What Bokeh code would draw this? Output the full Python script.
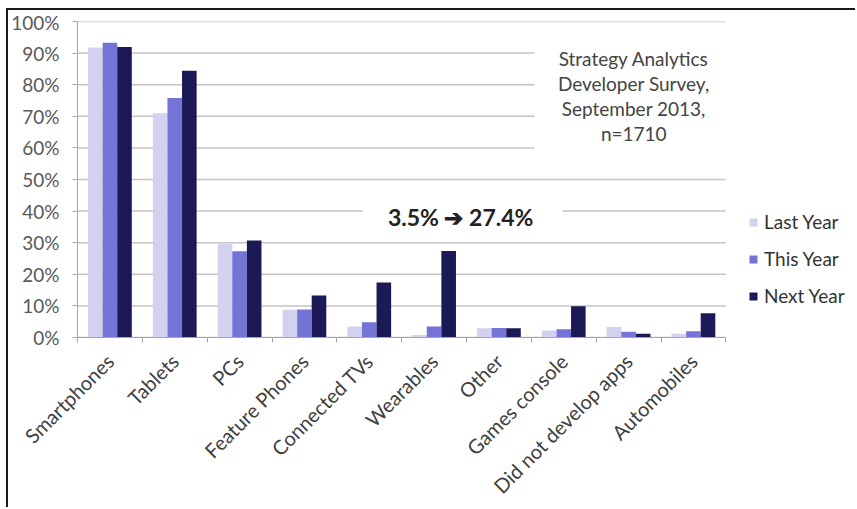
import math
from bokeh.plotting import figure
from bokeh.models import (ColumnDataSource, FixedTicker, NumeralTickFormatter, LinearAxis,
                          Legend, LegendItem, BoxAnnotation, Label, Range1d)
from bokeh.embed import file_html
from bokeh.resources import INLINE

categories = ["Smartphones", "Tablets", "PCs", "Feature Phones", "Connected TVs",
              "Wearables", "Other", "Games console", "Did not develop apps", "Automobiles"]
last_year = [91.8, 71.0, 29.7, 8.8, 3.5, 0.8, 2.9, 2.2, 3.3, 1.2]
this_year = [93.3, 75.8, 27.3, 8.9, 4.8, 3.5, 3.0, 2.6, 1.8, 2.0]
next_year = [91.9, 84.4, 30.7, 13.3, 17.4, 27.4, 2.9, 9.9, 1.2, 7.7]
series_names = ["Last Year", "This Year", "Next Year"]
series_colors = ["#d2d2f0", "#7474d6", "#1b1a56"]
y_ticks = [0, 10, 20, 30, 40, 50, 60, 70, 80, 90, 100]
note_lines = ["Strategy Analytics", "Developer Survey,", "September 2013,", "n=1710"]
callout = "3.5% \u2794 27.4%"

FONT = "Lato"
N = len(categories)
X_END = 12.0  # extra room on the right of the categories for the legend

p = figure(width=849, height=499, output_backend="svg", toolbar_location=None,
           x_range=Range1d(0, X_END), y_range=Range1d(0, 100),
           min_border_left=69, min_border_right=2, min_border_top=11, min_border_bottom=150,
           x_axis_type=None,
           styles={"margin-top": "8px", "margin-left": "6px",
                   "border-top": "2px solid #1a1a1a", "border-left": "2px solid #1a1a1a"})
p.outline_line_color = None
p.background_fill_color = "white"
p.border_fill_color = "white"
p.xgrid.visible = False
p.ygrid.visible = False

# horizontal gridlines limited to the category span
p.segment(x0=[0] * len(y_ticks), x1=[N] * len(y_ticks), y0=y_ticks, y1=y_ticks,
          line_color="#c4c4c4", line_width=1.5)

centers = [i + 0.5 for i in range(N)]
offsets = [-0.225, 0.0, 0.225]
renderers = []
for vals, off, col in zip([last_year, this_year, next_year], offsets, series_colors):
    src = ColumnDataSource(dict(x=[c + off for c in centers], top=vals))
    r = p.vbar(x="x", top="top", width=0.225, source=src, fill_color=col, line_color=None)
    renderers.append(r)

# y axis
yax = p.yaxis[0]
yax.ticker = FixedTicker(ticks=y_ticks)
yax.formatter = NumeralTickFormatter(format="0")
yax.major_label_overrides = {t: f"{t}%" for t in y_ticks}
yax.axis_line_color = "#a6a6a6"
yax.major_tick_line_color = "#a6a6a6"
yax.major_tick_out = 5
yax.major_tick_in = 0
yax.minor_tick_line_color = None
yax.major_label_text_font = FONT
yax.major_label_text_font_size = "19px"
yax.major_label_text_color = "#595959"
yax.major_label_standoff = 13

# x axis: boundary ticks
xax1 = LinearAxis(ticker=FixedTicker(ticks=list(range(N + 1))), bounds=(0, N),
                  major_label_overrides={i: "" for i in range(N + 1)})
xax1.axis_line_color = "#a6a6a6"
xax1.major_tick_line_color = "#a6a6a6"
xax1.major_tick_out = 5
xax1.major_tick_in = 0
xax1.minor_tick_line_color = None
xax1.major_label_text_font_size = "1px"
xax1.major_label_standoff = 0
p.add_layout(xax1, "below")

# x axis: category labels
xax2 = LinearAxis(ticker=FixedTicker(ticks=centers),
                  major_label_overrides={c: name for c, name in zip(centers, categories)})
xax2.axis_line_color = None
xax2.major_tick_line_color = None
xax2.minor_tick_line_color = None
xax2.major_label_orientation = math.pi / 4
xax2.major_label_text_font = FONT
xax2.major_label_text_font_size = "20px"
xax2.major_label_text_color = "#404040"
xax2.major_label_standoff = 9
p.add_layout(xax2, "below")

# white boxes behind annotations
p.add_layout(BoxAnnotation(left=7.05, right=10.3, bottom=54, top=96,
                           fill_color="white", fill_alpha=1, line_color=None))
p.add_layout(BoxAnnotation(left=4.4, right=7.48, bottom=35, top=45,
                           fill_color="white", fill_alpha=1, line_color=None))

for i, line in enumerate(note_lines):
    p.add_layout(Label(x=8.58, y=88.3 - i * 7.9, text=line, text_align="center",
                       text_baseline="middle", text_font=FONT, text_font_size="19px",
                       text_color="#444444"))

p.add_layout(Label(x=5.91, y=38.0, text=callout, text_align="center", text_baseline="middle",
                   text_font=FONT, text_font_size="23px", text_font_style="bold",
                   text_color="#222222"))

legend = Legend(items=[LegendItem(label=n, renderers=[r]) for n, r in zip(series_names, renderers)],
                location=(671, 30), label_text_font=FONT, label_text_font_size="19px",
                label_text_color="#333333", glyph_width=10, glyph_height=10,
                label_height=20, spacing=14, padding=0, margin=0,
                border_line_color=None, background_fill_alpha=0, label_standoff=6)
p.add_layout(legend)

open("out.html", "w").write(file_html(p, INLINE))
